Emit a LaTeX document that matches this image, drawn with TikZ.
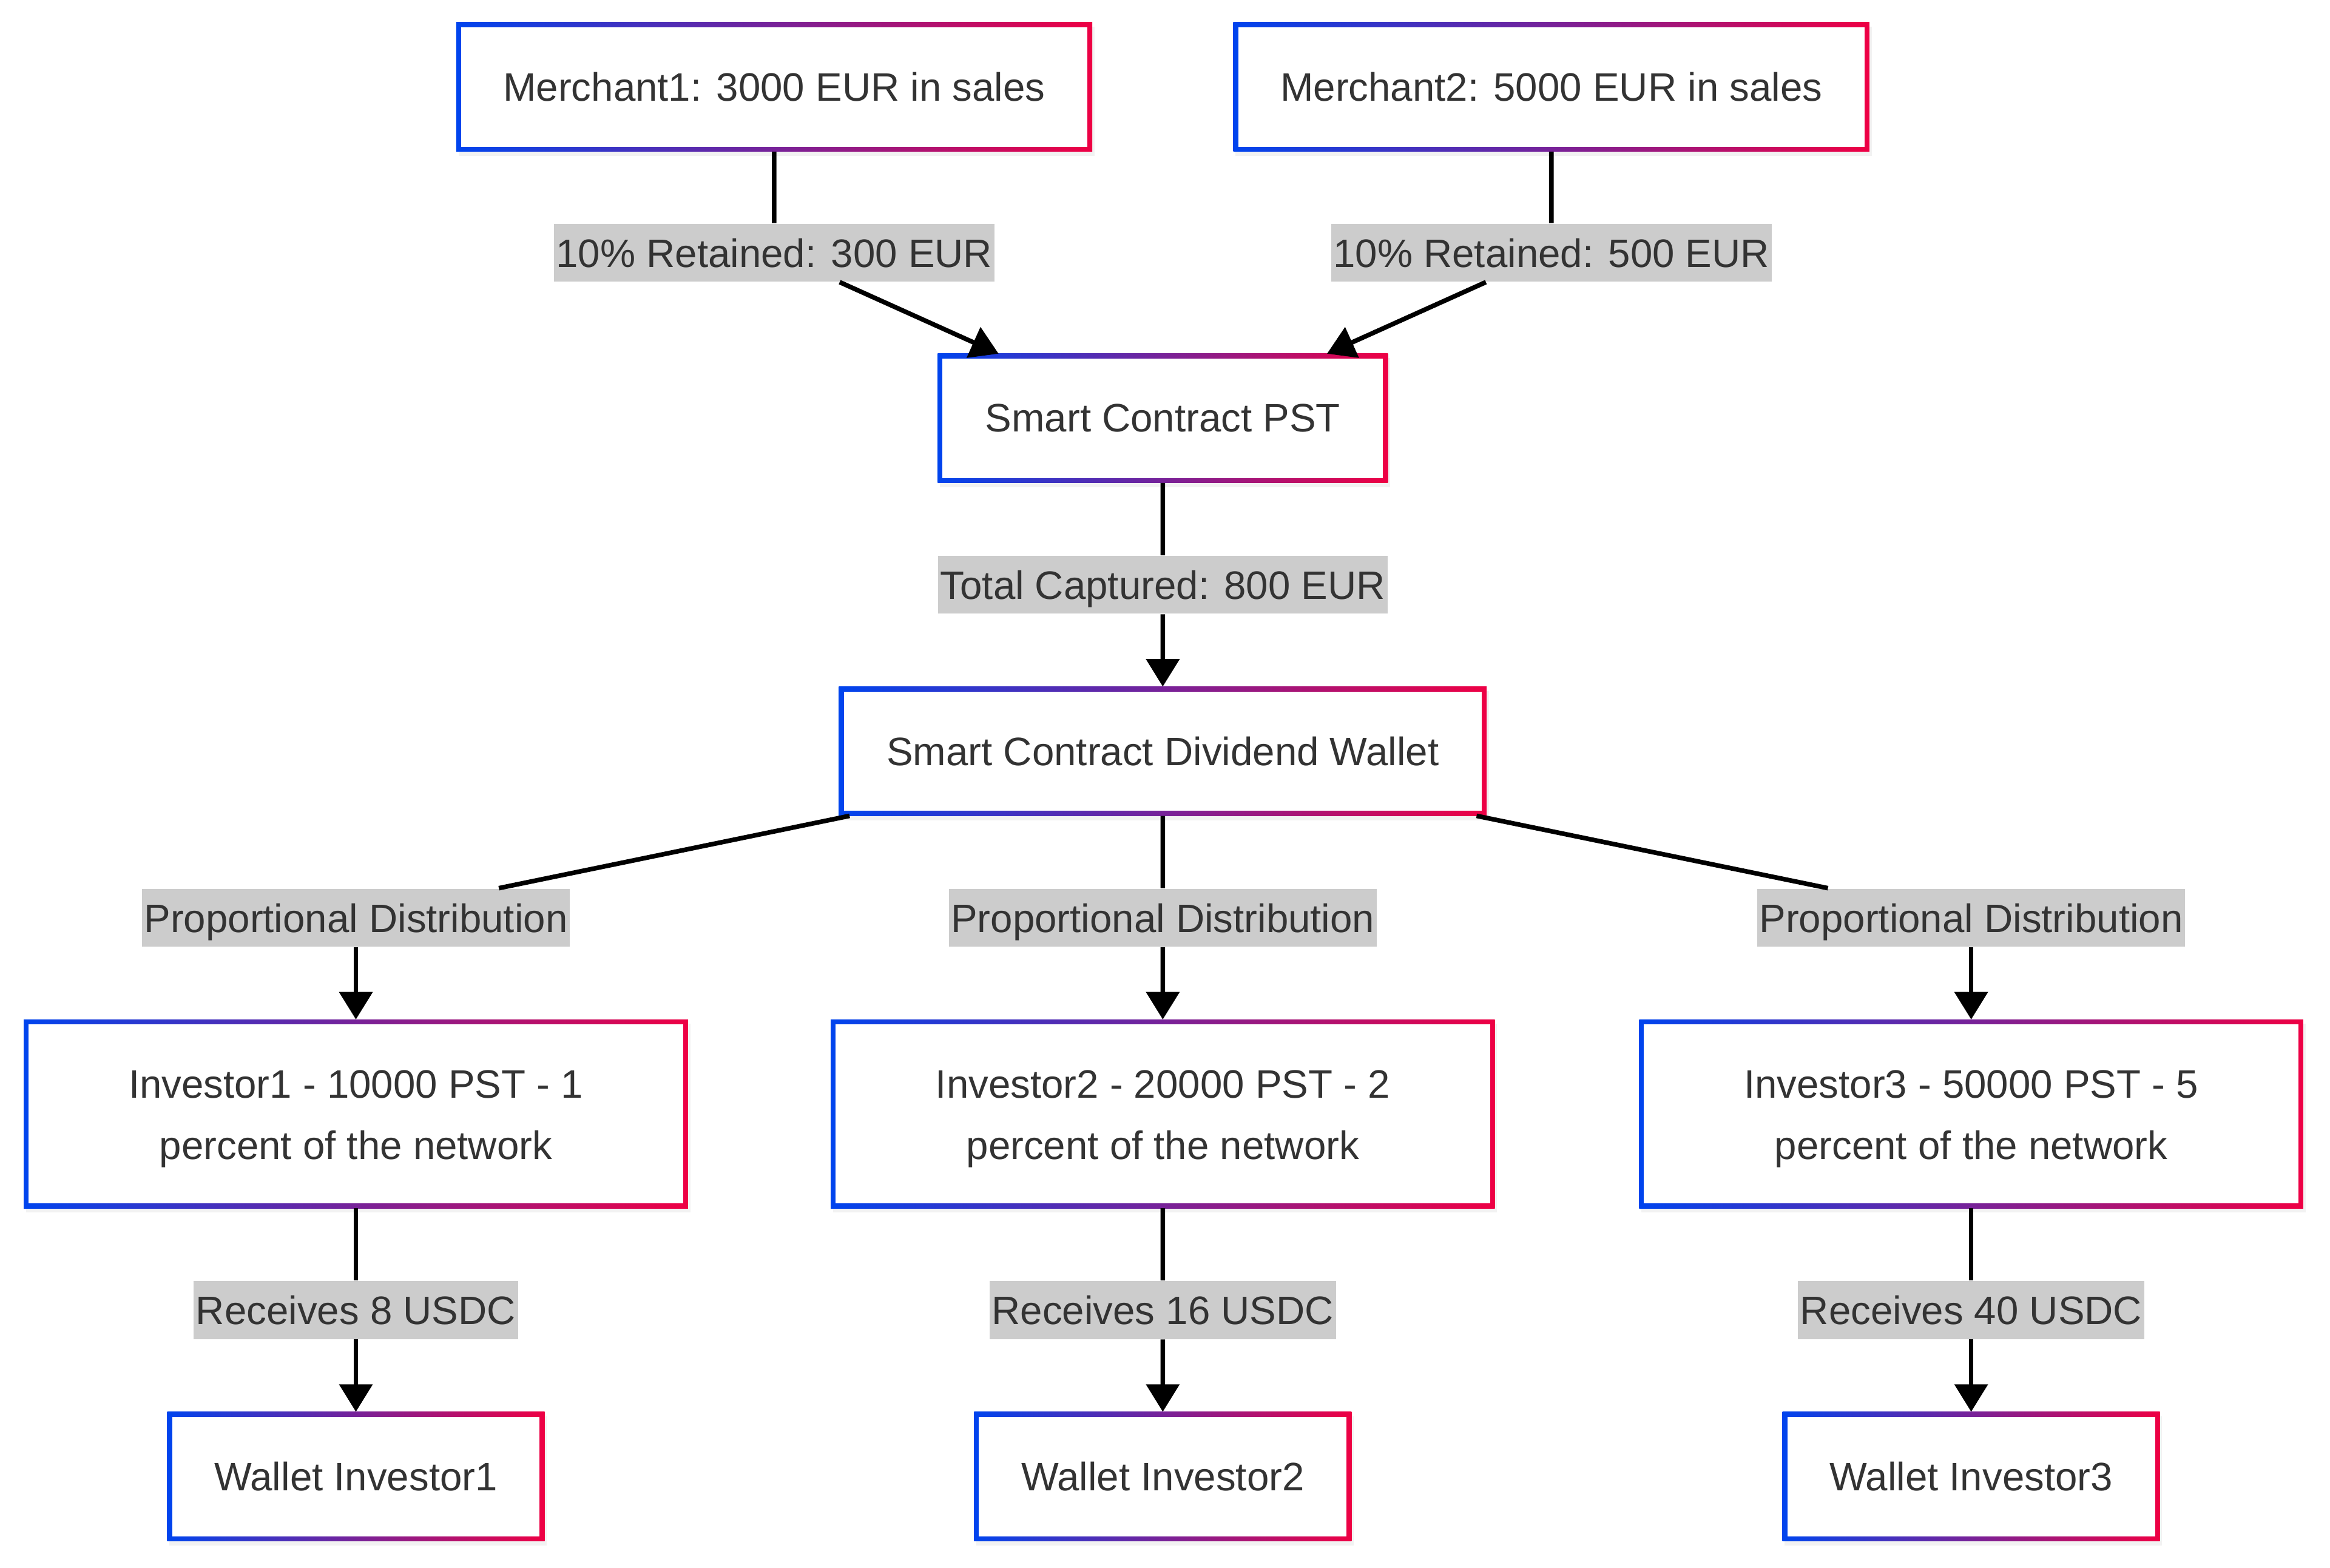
\documentclass[tikz,border=0pt]{standalone}
\usepackage{fontspec}
\setmainfont{Liberation Sans}
\usepackage{tikz}
\usetikzlibrary{shapes,arrows,arrows.meta,positioning,calc,shadows}

\definecolor{flowblue}{HTML}{0044EE}
\definecolor{flowred}{HTML}{EE0044}
\definecolor{flowtext}{HTML}{333333}
\definecolor{flowlabel}{HTML}{CCCCCC}

\tikzset{
  gradbox/.style={rectangle, outer sep=0pt, minimum height=1.74cm, align=center, text=flowtext,
    drop shadow={opacity=0.10, shadow xshift=0.03cm, shadow yshift=-0.06cm},
    path picture={
      \shade[left color=flowblue, right color=flowred] (path picture bounding box.south west) rectangle (path picture bounding box.north east);
      \fill[white] ([shift={(0.066cm,0.066cm)}]path picture bounding box.south west) rectangle ([shift={(-0.066cm,-0.066cm)}]path picture bounding box.north east);
    }},
  investorbox/.style={gradbox, minimum width=8.94cm, minimum height=2.54cm, text height=1.33cm},
  flowlbl/.style={rectangle, fill=flowlabel, text=flowtext, inner xsep=0.03cm, inner ysep=0pt, minimum height=0.78cm, text height=0.5cm, text depth=0.11cm},
  flowline/.style={line width=0.062cm, black},
  flowarrow/.style={flowline, -{Triangle[width=0.44cm, length=0.37cm]}}
}

\begin{document}
\begin{tikzpicture}[font=\fontsize{15.2pt}{23.3pt}\selectfont]
    \useasboundingbox (0,0) rectangle (31.36,-21.1);
    % Merchants
    \node (m1) [gradbox, minimum width=8.56cm] at (10.42,-1.17) {Merchant1: 3000 EUR in sales};
    \node (m2) [gradbox, minimum width=8.56cm, right=1.9cm of m1] {Merchant2: 5000 EUR in sales};
    \coordinate (msplit) at ($(m1.south)!0.5!(m2.south)$);

    % Contract and dividend wallet
    \node (pst) [gradbox, minimum width=6.06cm, below=2.72cm of msplit] {Smart Contract PST};
    \node (dw) [gradbox, minimum width=8.72cm, below=2.74cm of pst] {Smart Contract Dividend Wallet};

    % Investors
    \node (i2) [investorbox, below=2.74cm of dw] {Investor2 - 20000 PST - 2\\percent of the network};
    \node (i1) [investorbox, left=1.92cm of i2] {Investor1 - 10000 PST - 1\\percent of the network};
    \node (i3) [investorbox, right=1.94cm of i2] {Investor3 - 50000 PST - 5\\percent of the network};

    % Wallets
    \node (w1) [gradbox, minimum width=5.08cm, below=2.74cm of i1] {Wallet Investor1};
    \node (w2) [gradbox, minimum width=5.08cm, below=2.74cm of i2] {Wallet Investor2};
    \node (w3) [gradbox, minimum width=5.08cm, below=2.74cm of i3] {Wallet Investor3};

    % Labels
    \node (l1) [flowlbl] at ($(m1.south)!0.5!(m1.south |- pst.north)$) {10\% Retained: 300 EUR};
    \node (l2) [flowlbl] at ($(m2.south)!0.5!(m2.south |- pst.north)$) {10\% Retained: 500 EUR};
    \node (l3) [flowlbl] at ($(pst.south)!0.5!(dw.north)$) {Total Captured: 800 EUR};
    \node (l4) [flowlbl] at ($(i1.north)!0.5!(i1.north |- dw.south)$) {Proportional Distribution};
    \node (l5) [flowlbl] at ($(i2.north)!0.5!(dw.south)$) {Proportional Distribution};
    \node (l6) [flowlbl] at ($(i3.north)!0.5!(i3.north |- dw.south)$) {Proportional Distribution};
    \node (l7) [flowlbl] at ($(i1.south)!0.5!(w1.north)$) {Receives 8 USDC};
    \node (l8) [flowlbl] at ($(i2.south)!0.5!(w2.north)$) {Receives 16 USDC};
    \node (l9) [flowlbl] at ($(i3.south)!0.5!(w3.north)$) {Receives 40 USDC};

    % Arrows
    \draw [flowline] (m1) -- (l1);
    \draw [flowarrow] (l1) -- ([xshift=0.82cm]pst.north west);
    \draw [flowline] (m2) -- (l2);
    \draw [flowarrow] (l2) -- ([xshift=-0.82cm]pst.north east);
    \draw [flowline] (pst) -- (l3);
    \draw [flowarrow] (l3) -- (dw);
    \draw [flowline] (dw) -- (l4);
    \draw [flowarrow] (l4) -- (i1);
    \draw [flowline] (dw) -- (l5);
    \draw [flowarrow] (l5) -- (i2);
    \draw [flowline] (dw) -- (l6);
    \draw [flowarrow] (l6) -- (i3);
    \draw [flowline] (i1) -- (l7);
    \draw [flowarrow] (l7) -- (w1);
    \draw [flowline] (i2) -- (l8);
    \draw [flowarrow] (l8) -- (w2);
    \draw [flowline] (i3) -- (l9);
    \draw [flowarrow] (l9) -- (w3);
\end{tikzpicture}
\end{document}
